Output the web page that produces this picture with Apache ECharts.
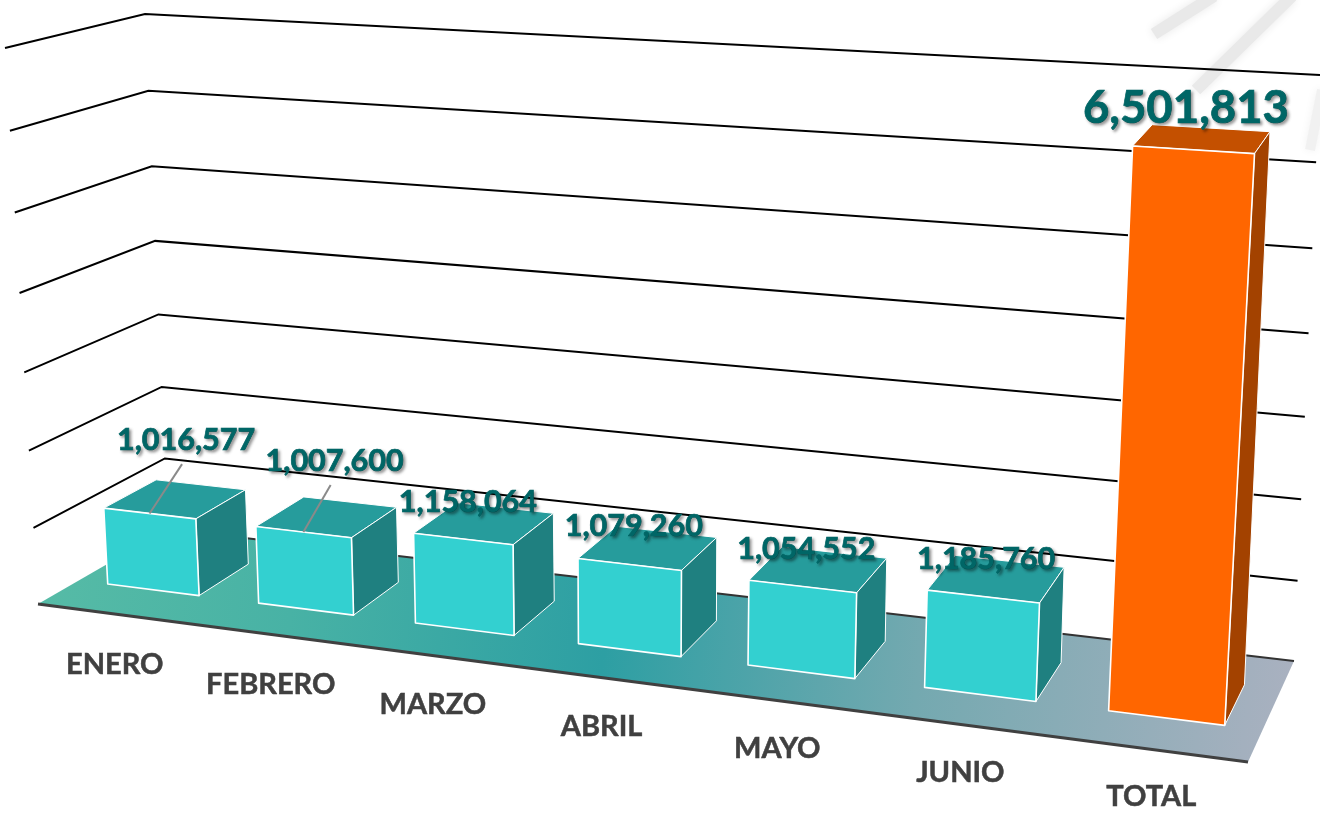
<!DOCTYPE html>
<html><head><meta charset="utf-8">
<style>html,body{margin:0;padding:0;background:#fff}#c{width:1320px;height:813px}</style>
<script src="https://cdn.jsdelivr.net/npm/echarts@6/dist/echarts.min.js"></script>
</head><body><div id="c"></div>
<script>
const categories = ['ENERO','FEBRERO','MARZO','ABRIL','MAYO','JUNIO','TOTAL'];
const values = [1016577,1007600,1158064,1079260,1054552,1185760,6501813];
const yTicks = [0,1000000,2000000,3000000,4000000,5000000,6000000,7000000];

// Perspective box of the plot: corners on screen (front/back, bottom/top, left/right)
const FBL=[38,604],FBR=[1248,762],FTL=[5,48],FTR=[1286,126];
const BBL=[168,529],BBR=[1294,661],BTL=[145,14],BTR=[1320,75];
const K=1.15, KV=1.05, D_FRONT=.315, D_BACK=.72, BAR=.61;
const lerp=(a,b,s)=>[a[0]+(b[0]-a[0])*s,a[1]+(b[1]-a[1])*s];
function P(t,d,v0){
  const u=t/(t+K*(1-t)), v=v0/(v0+KV*(1-v0));
  const fb=lerp(FBL,FBR,u),ft=lerp(FTL,FTR,u),bb=lerp(BBL,BBR,u),bt=lerp(BTL,BTR,u);
  return lerp(lerp(fb,ft,v),lerp(bb,bt,v),d);
}
function norm(api,c){return [c[0]/api.getWidth(),1-c[1]/api.getHeight()];}
// label nudges in px relative to the centre of the bar's top face
const labelNudge=[[11,-59],[8,-56],[-16,-21],[-14,-22],[-12,-20],[-10,-20],[-16,-31]];
const leaderBars=[0,1];

const fontFam='Lato, "Open Sans", sans-serif';
const poly=(pts,fill,stroke,w)=>({type:'polygon',shape:{points:pts},style:{fill,stroke:stroke||fill,lineWidth:w||1,lineJoin:'round'}});
const streak=(x1,y1,x2,y2,c,w)=>({type:'line',z:-1,silent:true,shape:{x1,y1,x2,y2},style:{stroke:c,lineWidth:w,shadowBlur:10,shadowColor:c}});

const chart=echarts.init(document.getElementById('c'),null,{renderer:'canvas'});
chart.setOption({
  animation:false,
  backgroundColor:'#fff',
  grid:{left:0,right:0,top:0,bottom:0},
  xAxis:{type:'category',data:categories,show:false},
  yAxis:{type:'value',min:0,max:7000000,interval:1000000,show:false},
  graphic:[
    streak(1154,34,1214,-4,'#e9e9e9',12),
    streak(1196,90,1292,-4,'#e9e9e9',12),
    streak(1310,150,1322,90,'#f1f1f1',10)
  ],
  series:[
    {type:'custom',coordinateSystem:'cartesian2d',silent:true,z:1,clip:false,
      data:yTicks.map(v=>[0,v]),encode:{x:0,y:1},
      renderItem(params,api){
        const val=api.value(1);
        const v=norm(api,api.coord([0,val]))[1];
        if(val===0) return {type:'group',children:[
          {type:'polygon',shape:{points:[P(0,0,0),P(1,0,0),P(1,1,0),P(0,1,0)]},
            style:{fill:new echarts.graphic.LinearGradient(38,600,1294,720,[
              {offset:0,color:'#56BBA6'},{offset:.2,color:'#48B2A5'},{offset:.45,color:'#2D9FA3'},{offset:.7,color:'#74A9B0'},{offset:1,color:'#AAB1C0'}],true)}},
          {type:'polyline',shape:{points:[P(0,1,0),P(1,1,0)]},style:{fill:'none',stroke:'#333',lineWidth:2}},
          {type:'polyline',shape:{points:[P(0,0,0),P(1,0,0)]},style:{fill:'none',stroke:'#404040',lineWidth:3}}
        ]};
        return {type:'polyline',shape:{points:[P(0,0,v),P(0,1,v),P(1,1,v)]},style:{fill:'none',stroke:'#000',lineWidth:2}};
      }},
    {type:'custom',coordinateSystem:'cartesian2d',silent:true,z:2,clip:false,
      data:values.map((v,i)=>[i,v]),encode:{x:0,y:1},
      renderItem(params,api){
        const i=api.value(0),val=api.value(1);
        const c=norm(api,api.coord([i,val])),hw=BAR*api.size([1,0])[0]/2/api.getWidth();
        const t0=c[0]-hw,t1=c[0]+hw,v=c[1];
        const tot=i===categories.length-1;
        const cF=tot?'#FF6600':'#33D0D0',cT=tot?'#C45000':'#269C9C',cS=tot?'#A34200':'#1F8080';
        return {type:'group',children:[
          poly([P(t0,D_FRONT,v),P(t1,D_FRONT,v),P(t1,D_BACK,v),P(t0,D_BACK,v)],cT,'#fff',1),
          poly([P(t1,D_FRONT,0),P(t1,D_BACK,0),P(t1,D_BACK,v),P(t1,D_FRONT,v)],cS,'#fff',1),
          poly([P(t0,D_FRONT,0),P(t1,D_FRONT,0),P(t1,D_FRONT,v),P(t0,D_FRONT,v)],cF,'#fff',1.6)
        ]};
      }},
    {type:'custom',coordinateSystem:'cartesian2d',silent:true,z:3,clip:false,
      data:values.map((v,i)=>[i,v]),encode:{x:0,y:1},
      renderItem(params,api){
        const i=api.value(0),val=api.value(1);
        const c=norm(api,api.coord([i,val]));
        const tot=i===categories.length-1;
        const top=P(c[0],(D_FRONT+D_BACK)/2,c[1]);
        const lx=top[0]+labelNudge[i][0],ly=top[1]+labelNudge[i][1];
        const kids=[];
        if(leaderBars.includes(i)){const s=P(c[0],D_FRONT,c[1]);
          kids.push({type:'line',shape:{x1:s[0],y1:s[1],x2:lx-4,y2:ly+24},style:{stroke:'#8a8a8a',lineWidth:2}});}
        kids.push({type:'text',x:lx,y:ly,style:{text:echarts.format.addCommas(val),x:0,y:0,align:'center',verticalAlign:'middle',
          font:`bold ${tot?45.5:30.5}px ${fontFam}`,fill:'#006666',stroke:'#006666',lineWidth:.7,textShadowColor:'rgba(0,0,0,.4)',textShadowBlur:3,textShadowOffsetX:2,textShadowOffsetY:2}});
        const lab=P(c[0],-.2,0);
        kids.push({type:'text',x:lab[0]+27-16*c[0],y:lab[1]+36-9*c[0],style:{text:categories[i],x:0,y:0,align:'center',verticalAlign:'middle',
          font:`bold 29px ${fontFam}`,fill:'#404040',stroke:'#404040',lineWidth:.5}});
        return {type:'group',children:kids};
      }}
  ]
});
</script></body></html>
